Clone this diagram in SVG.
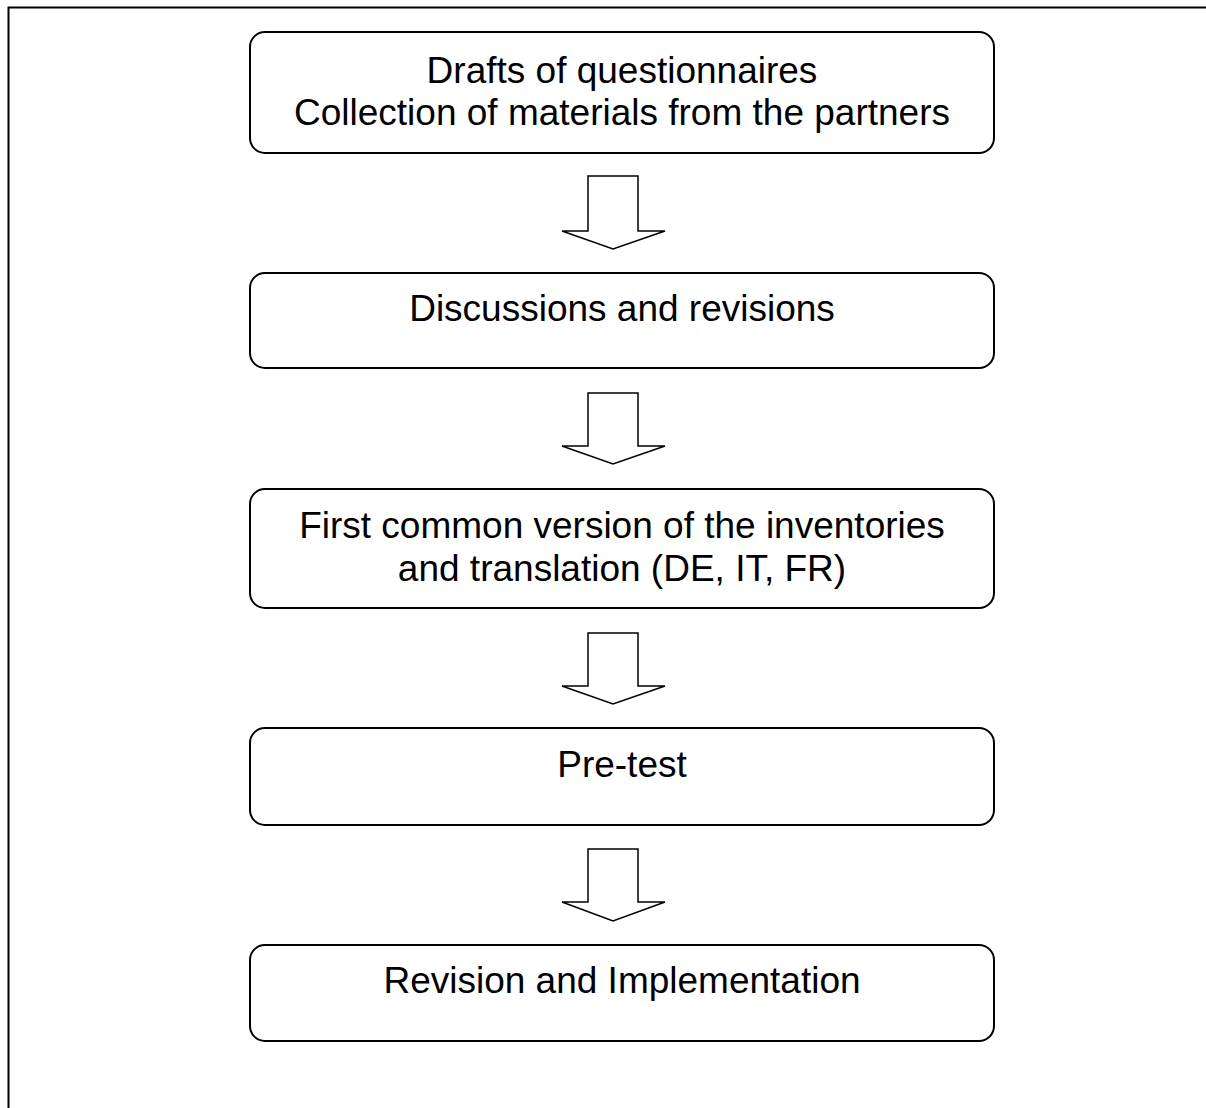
<svg xmlns="http://www.w3.org/2000/svg" width="1206" height="1108" viewBox="0 0 1206 1108">
<style>
.box{fill:#fff;stroke:#000;stroke-width:2}
.arr{fill:#fff;stroke:#000;stroke-width:1.5;stroke-linejoin:miter}
text{font-family:"Liberation Sans",Arial,sans-serif;font-size:37px;fill:#000;text-anchor:middle}
</style>
<rect width="1206" height="1108" fill="#fff"/>
<path d="M8.5,1108 V7.5 H1206" fill="none" stroke="#000" stroke-width="2"/>
<g id="connectors">
<polygon class="arr" points="588,176 638,176 638,231 665,231 613,249 562,231 588,231"/>
<polygon class="arr" points="588,393 638,393 638,446 665,446 613,464 562,446 588,446"/>
<polygon class="arr" points="588,633 638,633 638,686 665,686 613,704 562,686 588,686"/>
<polygon class="arr" points="588,849 638,849 638,902 665,902 613,921 562,902 588,902"/>
</g>
<g id="n1"><rect class="box" x="250" y="32" width="744" height="121" rx="15"/>
<text x="622" y="83">Drafts of questionnaires</text>
<text x="622" y="125">Collection of materials from the partners</text></g>
<g id="n2"><rect class="box" x="250" y="273" width="744" height="95" rx="15"/>
<text x="622" y="321">Discussions and revisions</text></g>
<g id="n3"><rect class="box" x="250" y="489" width="744" height="119" rx="15"/>
<text x="622" y="538">First common version of the inventories</text>
<text x="622" y="581">and translation (DE, IT, FR)</text></g>
<g id="n4"><rect class="box" x="250" y="728" width="744" height="97" rx="15"/>
<text x="622" y="777">Pre-test</text></g>
<g id="n5"><rect class="box" x="250" y="945" width="744" height="96" rx="15"/>
<text x="622" y="993">Revision and Implementation</text></g>
</svg>
